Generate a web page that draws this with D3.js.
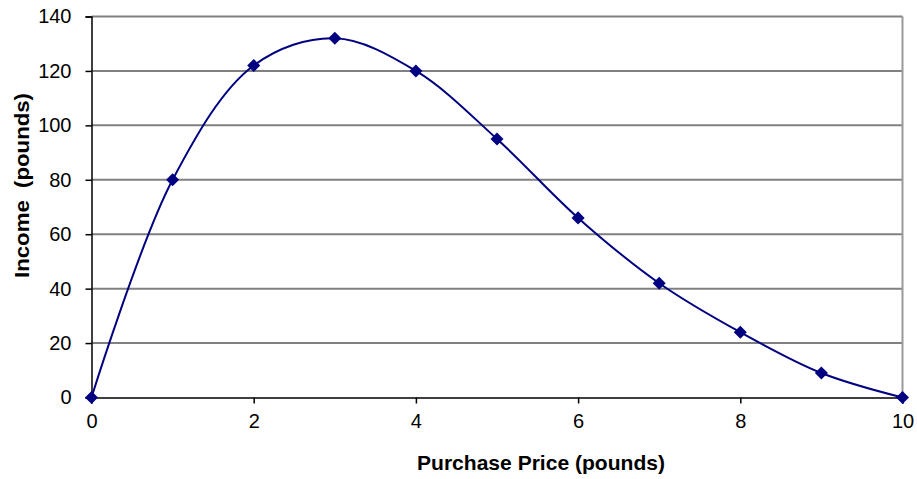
<!DOCTYPE html>
<html><head><meta charset="utf-8">
<script src="https://cdn.jsdelivr.net/npm/d3@7"></script>
<style>body{margin:0;background:#fff}svg{display:block}text{font-family:"Liberation Sans",Arial,sans-serif}</style>
</head><body>
<svg id="c" width="917" height="479"></svg>
<script>
const prices = [0,1,2,3,4,5,6,7,8,9,10];
const income = [0,80,122,132,120,95,66,42,24,9,0];
const xTicks = [0,2,4,6,8,10];
const yTicks = [0,20,40,60,80,100,120,140];

const svg = d3.select("#c");
const L=91.5, R=902.5, T=16.5, B=397.5;
const x = d3.scaleLinear().domain([0,10]).range([L,R]);
const y = d3.scaleLinear().domain([0,140]).range([B,T]);

// gridlines
svg.append("g").selectAll("line").data(yTicks.filter(d=>d>0)).join("line")
  .attr("x1",L).attr("x2",R).attr("y1",d=>y(d)).attr("y2",d=>y(d))
  .attr("stroke","#808080").attr("stroke-width",2);
// right border
svg.append("line").attr("x1",R).attr("x2",R).attr("y1",T).attr("y2",B)
  .attr("stroke","#999").attr("stroke-width",2);

const yAxis = svg.append("g").attr("transform",`translate(${L},0)`)
  .call(d3.axisLeft(y).tickValues(yTicks).tickSize(6).tickPadding(14));
const xAxis = svg.append("g").attr("transform",`translate(0,${B})`)
  .call(d3.axisBottom(x).tickValues(xTicks).tickSize(6).tickPadding(10));
[yAxis,xAxis].forEach(a=>{
  a.selectAll("path,line").attr("stroke","#000").attr("stroke-width",1.5);
  a.selectAll("text").attr("fill","#000").style("font-size","20px").style("font-family","'Liberation Sans',Arial,sans-serif");
});

const pts = prices.map((p,i)=>[p,income[i]]);
svg.append("path").datum(pts)
  .attr("d", d3.line().x(d=>x(d[0])).y(d=>y(d[1])).curve(d3.curveCatmullRom.alpha(0.5)))
  .attr("fill","none").attr("stroke","#000080").attr("stroke-width",2);

svg.append("g").selectAll("path").data(pts).join("path")
  .attr("d", d3.symbol(d3.symbolSquare, 85))
  .attr("transform",d=>`translate(${x(d[0])},${y(d[1])}) rotate(45)`)
  .attr("fill","#000080");

svg.append("text").attr("x",541).attr("y",470).attr("text-anchor","middle")
  .attr("textLength",248).attr("lengthAdjust","spacingAndGlyphs")
  .style("font-size","21px").style("font-weight","bold").text("Purchase Price (pounds)");
svg.append("text").attr("transform","translate(29,185.5) rotate(-90)").attr("text-anchor","middle")
  .style("white-space","pre").attr("textLength",185).attr("lengthAdjust","spacingAndGlyphs")
  .style("font-size","21px").style("font-weight","bold").text("Income  (pounds)");
</script>
</body></html>
